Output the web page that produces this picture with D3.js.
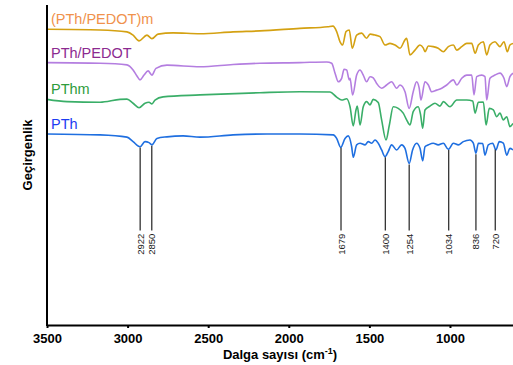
<!DOCTYPE html>
<html>
<head>
<meta charset="utf-8">
<script src="https://cdn.jsdelivr.net/npm/d3@7"></script>
<style>
  body { margin: 0; background: #fff; }
  svg { display: block; font-family: Arial, "Liberation Sans", sans-serif; }
</style>
</head>
<body>
<div class="svg-container"></div>
<script>
// FTIR spectra, [wavenumber cm-1, transmittance a.u.]
const pthmPedot = [
  [3500, 92.4], [3171, 92.2], [3004, 91.6], [2966, 90.6], [2929, 88.8], [2880, 90.6],
  [2849, 89.5], [2811, 90.9], [2718, 91.3], [2551, 91.0], [2346, 91.6], [2179, 91.9],
  [1931, 92.7], [1757, 93.2], [1726, 93.4], [1703, 91.7], [1682, 88.5], [1666, 87.5],
  [1645, 91.7], [1625, 92.2], [1606, 86.5], [1579, 90.6], [1548, 91.2], [1517, 89.6],
  [1496, 90.9], [1465, 90.6], [1434, 90.1], [1403, 87.5], [1372, 88.0], [1341, 87.5],
  [1310, 86.5], [1279, 89.1], [1269, 89.6], [1248, 84.4], [1217, 85.9], [1186, 87.5],
  [1165, 86.5], [1155, 85.4], [1134, 87.2], [1104, 87.0], [1073, 86.5], [1041, 85.4],
  [1010, 87.0], [979, 87.5], [958, 85.9], [927, 87.0], [896, 88.0], [865, 88.0],
  [844, 84.9], [824, 87.5], [793, 88.5], [772, 84.4], [752, 87.5], [721, 88.5],
  [690, 87.0], [665, 88.5], [644, 85.4], [628, 87.5], [609, 88.0]
];

const pthPedot = [
  [3500, 82.0], [3171, 81.8], [3004, 81.3], [2966, 79.7], [2942, 77.8], [2923, 76.6],
  [2898, 78.1], [2873, 79.4], [2849, 78.1], [2824, 80.2], [2756, 81.2], [2551, 80.7],
  [2346, 81.4], [2179, 81.8], [1931, 82.0], [1765, 82.2], [1734, 81.8], [1713, 78.7],
  [1693, 76.0], [1672, 77.1], [1657, 79.9], [1641, 79.7], [1625, 76.6], [1620, 77.1],
  [1604, 71.9], [1579, 78.1], [1558, 79.7], [1538, 78.1], [1517, 76.0], [1496, 77.6],
  [1476, 77.2], [1455, 75.5], [1424, 74.0], [1393, 75.0], [1362, 76.0], [1331, 74.0],
  [1310, 75.0], [1279, 72.9], [1253, 67.7], [1228, 72.9], [1207, 76.0], [1191, 74.0],
  [1180, 70.3], [1155, 76.0], [1134, 75.0], [1114, 72.9], [1083, 73.4], [1051, 74.0],
  [1020, 75.0], [979, 76.6], [958, 75.0], [927, 77.1], [896, 78.1], [865, 78.1],
  [851, 71.9], [834, 77.6], [803, 78.1], [783, 77.6], [772, 70.3], [752, 77.1],
  [721, 78.1], [690, 78.7], [665, 77.1], [648, 74.5], [628, 77.6], [609, 78.7]
];

const pthm = [
  [3500, 70.5], [3376, 69.8], [3171, 69.6], [3047, 70.5], [3004, 70.6], [2966, 69.3],
  [2929, 67.9], [2892, 69.3], [2867, 69.6], [2849, 69.1], [2830, 70.3], [2780, 71.3],
  [2551, 71.9], [2179, 72.6], [1931, 72.9], [1744, 72.8], [1703, 71.2], [1672, 70.3],
  [1641, 70.7], [1620, 68.2], [1600, 62.2], [1583, 67.2], [1575, 68.4], [1558, 62.5],
  [1538, 68.2], [1517, 69.8], [1496, 68.8], [1476, 70.5], [1445, 69.5], [1424, 64.1],
  [1397, 57.8], [1376, 62.5], [1352, 68.2], [1321, 67.7], [1290, 66.2], [1269, 64.1],
  [1248, 62.5], [1228, 66.7], [1197, 68.2], [1182, 65.6], [1169, 61.5], [1155, 67.2],
  [1124, 68.4], [1093, 69.3], [1062, 68.4], [1041, 69.8], [1000, 68.2], [958, 70.3],
  [896, 70.3], [859, 70.0], [844, 66.2], [824, 69.6], [793, 69.7], [776, 62.5],
  [756, 67.7], [731, 67.2], [710, 65.1], [690, 66.2], [669, 64.1], [648, 65.1],
  [628, 62.0], [609, 63.0]
];

const pth = [
  [3500, 59.7], [3171, 59.4], [3004, 58.7], [2966, 57.3], [2923, 55.7], [2892, 57.3],
  [2867, 57.0], [2849, 56.3], [2818, 58.3], [2756, 58.8], [2656, 59.1], [2551, 58.7],
  [2346, 59.4], [2135, 59.7], [1931, 59.7], [1724, 59.4], [1703, 58.3], [1678, 55.5],
  [1651, 58.3], [1631, 59.1], [1610, 55.7], [1600, 52.4], [1579, 56.3], [1558, 56.8],
  [1527, 56.3], [1507, 57.3], [1486, 56.8], [1465, 57.8], [1445, 56.8], [1424, 54.7],
  [1403, 52.6], [1383, 54.2], [1362, 56.3], [1331, 54.7], [1300, 56.3], [1279, 55.2],
  [1253, 50.5], [1232, 54.7], [1207, 56.8], [1186, 55.2], [1169, 51.3], [1155, 55.7],
  [1134, 56.3], [1104, 56.8], [1073, 56.3], [1041, 56.8], [1010, 54.9], [979, 56.8],
  [948, 56.3], [917, 57.3], [876, 57.8], [855, 56.8], [839, 53.7], [824, 56.8],
  [797, 56.7], [783, 53.1], [762, 56.3], [735, 56.8], [715, 54.7], [694, 57.3],
  [669, 56.8], [648, 53.1], [628, 55.2], [609, 54.7]
];

const seriesNames = ['(PTh/PEDOT)m', 'PTh/PEDOT', 'PThm', 'PTh'];
const seriesData = [pthmPedot, pthPedot, pthm, pth];
const lineColours = ['#d4a112', '#b47ee0', '#3aae68', '#1f6fe0'];
const labelColours = ['#f0924c', '#8c2a90', '#2e9c3c', '#1c3cf2'];

// marked PTh bands: where the marker sits and what it says
const peakPos = [2922, 2850, 1676, 1401, 1253, 1008, 839, 719];
const peakLabels = ['2922', '2850', '1679', '1400', '1254', '1034', '836', '720'];

const xTicks = [3500, 3000, 2500, 2000, 1500, 1000];

const width = 513;
const height = 365;
const margin = { top: 5, right: 0, bottom: 40, left: 47 };

const x = d3.scaleLinear()
  .domain([3500, 609])
  .range([margin.left, width - margin.right]);

const y = d3.scaleLinear()
  .domain([0, 100])
  .range([height - margin.bottom, margin.top]);

const svg = d3.select('.svg-container')
  .append('svg')
  .attr('width', width)
  .attr('height', height);

const line = d3.line()
  .x((d) => x(d[0]))
  .y((d) => y(d[1]))
  .curve(d3.curveMonotoneX);

// spectra
svg.append('g')
  .selectAll('path')
  .data(seriesData)
  .enter()
  .append('path')
  .attr('d', line)
  .attr('fill', 'none')
  .attr('stroke', (d, i) => lineColours[i])
  .attr('stroke-width', 1.6)
  .attr('stroke-linejoin', 'round');

// series names, just above each baseline
svg.append('g')
  .selectAll('text')
  .data(seriesNames)
  .enter()
  .append('text')
  .attr('x', margin.left + 4)
  .attr('y', (d, i) => y(seriesData[i][0][1]) - 5)
  .attr('fill', (d, i) => labelColours[i])
  .style('font-size', '14.5px')
  .text((d) => d);

// peak markers hang from the PTh trace
const bisect = d3.bisector((d) => -d[0]).left;
function pthAt(wn) {
  const i = bisect(pth, -wn);
  const a = pth[Math.max(0, i - 1)];
  const b = pth[Math.min(pth.length - 1, i)];
  if (a[0] === b[0]) return a[1];
  return a[1] + (b[1] - a[1]) * (wn - a[0]) / (b[0] - a[0]);
}

const markerEnd = y(29.5);

const markers = svg.append('g')
  .selectAll('g')
  .data(peakPos)
  .enter()
  .append('g');

markers.append('line')
  .attr('x1', (d) => x(d))
  .attr('x2', (d) => x(d))
  .attr('y1', (d) => y(pthAt(d)) + 1)
  .attr('y2', markerEnd)
  .attr('stroke', '#333')
  .attr('stroke-width', 1.3);

markers.append('text')
  .attr('transform', (d) => `translate(${x(d) + 3.5},${markerEnd + 3}) rotate(-90)`)
  .attr('text-anchor', 'end')
  .attr('fill', '#222')
  .style('font-size', '9.5px')
  .text((d, i) => peakLabels[i]);

// axes
const xAxis = svg.append('g')
  .attr('transform', `translate(0,${height - margin.bottom})`)
  .call(d3.axisBottom(x)
    .tickValues(xTicks)
    .tickFormat(d3.format('d'))
    .tickSize(3)
    .tickSizeOuter(0)
    .tickPadding(6));

xAxis.select('.domain').attr('stroke', '#000').attr('stroke-width', 2);
xAxis.selectAll('.tick line').attr('stroke', '#000').attr('stroke-width', 2);
xAxis.selectAll('.tick text')
  .attr('fill', '#000')
  .style('font-size', '13px')
  .style('font-weight', 'bold')
  .style('font-family', 'Arial, "Liberation Sans", sans-serif');

svg.append('line')
  .attr('x1', margin.left)
  .attr('x2', margin.left)
  .attr('y1', margin.top)
  .attr('y2', height - margin.bottom + 1)
  .attr('stroke', '#000')
  .attr('stroke-width', 2);

svg.append('text')
  .attr('x', (margin.left + width) / 2)
  .attr('y', height - 6)
  .attr('text-anchor', 'middle')
  .style('font-size', '13px')
  .style('font-weight', 'bold')
  .html('Dalga sayısı (cm<tspan dy="-5" font-size="9px">-1</tspan><tspan dy="5">)</tspan>');

svg.append('text')
  .attr('transform', `translate(32,${155}) rotate(-90)`)
  .attr('text-anchor', 'middle')
  .style('font-size', '13px')
  .style('font-weight', 'bold')
  .text('Geçirgenlik');
</script>
</body>
</html>
